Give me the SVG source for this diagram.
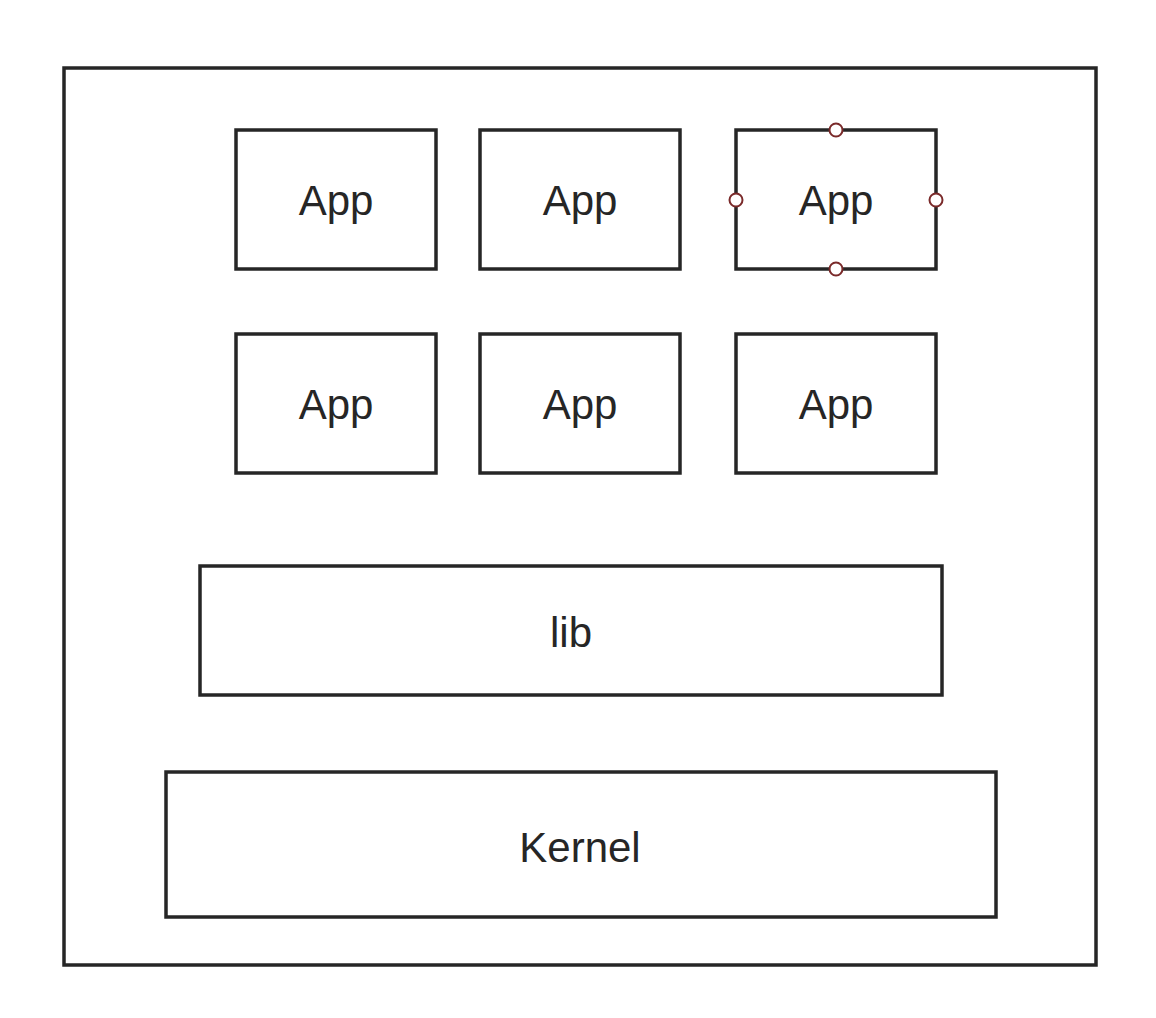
<svg xmlns="http://www.w3.org/2000/svg" width="1156" height="1018" viewBox="0 0 1156 1018">
<style>
.box{fill:#fff;stroke:#262626;stroke-width:3.5}
.lbl{font-family:"Liberation Sans",Arial,sans-serif;font-size:42px;fill:#262626;text-anchor:middle}
.h{fill:#fff;stroke:#7a2a2a;stroke-width:2}
</style>
<rect width="1156" height="1018" fill="#fff"/>
<g id="system"><rect class="box" x="64" y="68" width="1032" height="897"/></g>
<g id="app1"><rect class="box" x="236" y="130" width="200" height="139"/><text class="lbl" x="336" y="215">App</text></g>
<g id="app2"><rect class="box" x="480" y="130" width="200" height="139"/><text class="lbl" x="580" y="215">App</text></g>
<g id="app3"><rect class="box" x="736" y="130" width="200" height="139"/><text class="lbl" x="836" y="215">App</text>
<circle class="h" cx="836" cy="130" r="6.5"/><circle class="h" cx="836" cy="269" r="6.5"/><circle class="h" cx="736" cy="200" r="6.5"/><circle class="h" cx="936" cy="200" r="6.5"/></g>
<g id="app4"><rect class="box" x="236" y="334" width="200" height="139"/><text class="lbl" x="336" y="419">App</text></g>
<g id="app5"><rect class="box" x="480" y="334" width="200" height="139"/><text class="lbl" x="580" y="419">App</text></g>
<g id="app6"><rect class="box" x="736" y="334" width="200" height="139"/><text class="lbl" x="836" y="419">App</text></g>
<g id="lib"><rect class="box" x="200" y="566" width="742" height="129"/><text class="lbl" x="571" y="647">lib</text></g>
<g id="kernel"><rect class="box" x="166" y="772" width="830" height="145"/><text class="lbl" x="580" y="862">Kernel</text></g>
<g id="connectors"></g>
</svg>
